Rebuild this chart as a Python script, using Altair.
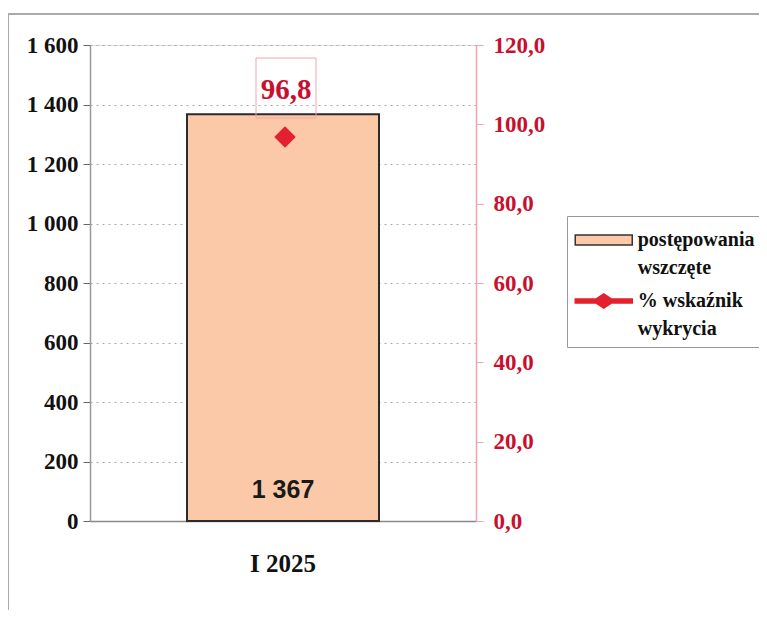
import altair as alt
import pandas as pd

# ---- data ----
periods = ["I 2025"]
cases_started = [1367]
detection_rate = [96.8]
series_names = ["postępowania wszczęte", "% wskaźnik wykrycia"]
left_ticks = [0, 200, 400, 600, 800, 1000, 1200, 1400, 1600]
right_ticks = [0, 20, 40, 60, 80, 100, 120]

PEACH = "#fbc9a8"
RED = "#e3202d"
RED_TXT = "#c8102e"
PINK = "#f2a2b2"
SERIF = "Liberation Serif"
SANS = "Liberation Sans"

bar_df = pd.DataFrame({"okres": periods, "wszczete": cases_started, "seria": [series_names[0]]})
line_df = pd.DataFrame({"okres": periods, "wskaznik": detection_rate, "seria": [series_names[1]]})
legend_df = pd.DataFrame({"okres": periods * 2, "seria": series_names})

# legend symbol paths (scaled by symbolSize; unit = sqrt(size)/2)
P_BAR = "M-1.9,-0.33H1.9V0.33H-1.9Z"
P_LINE = "M-1.9,-0.14H-0.5L0,-0.47L0.5,-0.14H1.9V0.14H0.5L0,0.47L-0.5,0.14H-1.9Z"

legend = alt.Legend(
    title=None, orient="none", legendX=477, legendY=171,
    strokeColor="#999", padding=8, symbolSize=900, symbolOffset=12.75,
    symbolStrokeWidth=1.5,
    labelFont=SERIF, labelFontWeight="bold", labelFontSize=20, labelColor="#111",
    labelOffset=18, labelLimit=300, rowPadding=7,
    labelExpr="indexof(datum.label, '%') == 0 ? ['% wskaźnik', 'wykrycia'] : split(datum.label, ' ')",
)
fill_scale = alt.Scale(domain=series_names, range=[PEACH, RED])
stroke_scale = alt.Scale(domain=series_names, range=["#333333", RED])
shape_scale = alt.Scale(domain=series_names, range=[P_BAR, P_LINE])

x_enc = alt.X("okres:N", title=None, scale=alt.Scale(paddingInner=0.5, paddingOuter=0.25),
              axis=alt.Axis(labelAngle=0, labelFont=SERIF, labelFontWeight="bold",
                            labelFontSize=25, labelColor="#111", labelPadding=30,
                            ticks=False, domainColor="#888", domainWidth=1.5))

left_base = alt.Chart(bar_df).encode(
    x=x_enc,
    y=alt.Y("wszczete:Q", title=None, scale=alt.Scale(domain=[0, 1600], nice=False),
            axis=alt.Axis(values=left_ticks,
                          labelExpr="replace(format(datum.value, ',d'), ',', ' ')",
                          labelFont=SERIF, labelFontWeight="bold", labelFontSize=23,
                          labelColor="#111", labelPadding=5, tickSize=7,
                          tickColor="#666", domainColor="#999", domainWidth=1.5,
                          grid=True, gridDash=[2, 4], gridColor="#aaa")),
)
bars = left_base.mark_bar(size=192, stroke="#2b2b2b", strokeWidth=2).encode(
    fill=alt.Fill("seria:N", scale=fill_scale, legend=legend))
bar_text = left_base.transform_calculate(
    lab="replace(format(datum.wszczete, ','), ',', ' ')"
).mark_text(font=SANS, fontWeight="bold", fontSize=25, color="#1a1a1a",
            baseline="bottom", dy=-18).encode(
    y=alt.datum(0), text="lab:N")
left = alt.layer(bars, bar_text)

y_right = alt.Y("wskaznik:Q", title=None, scale=alt.Scale(domain=[0, 120], nice=False),
                axis=alt.Axis(orient="right", values=right_ticks,
                              labelExpr="replace(format(datum.value, '.1f'), '.', ',')",
                              labelFont=SERIF, labelFontWeight="bold", labelFontSize=23,
                              labelColor=RED_TXT, labelPadding=10, tickSize=7,
                              tickColor=PINK, domainColor=PINK, domainWidth=1.5, grid=False))
right_base = alt.Chart(line_df).encode(x=x_enc, y=y_right)
box = right_base.mark_point(shape="M-1,-1H1V1H-1Z", size=3600, filled=False,
                            stroke=PINK, strokeWidth=1, yOffset=-49, xOffset=3, opacity=1)
diamond = right_base.mark_point(shape="diamond", size=460, filled=True, opacity=1,
                                xOffset=2).encode(
    fill=alt.Fill("seria:N", scale=fill_scale, legend=legend))
rate_text = right_base.transform_calculate(
    lab="replace(format(datum.wskaznik, '.1f'), '.', ',')"
).mark_text(font=SERIF, fontWeight="bold", fontSize=29, color=RED_TXT,
            baseline="middle", dy=-47, dx=3).encode(text="lab:N")
# legend-only layer (clipped away from the plot)
legend_marks = alt.Chart(legend_df).mark_point(filled=True, opacity=1, clip=True).encode(
    x=x_enc,
    y=alt.datum(-1000),
    fill=alt.Fill("seria:N", scale=fill_scale, legend=legend),
    stroke=alt.Stroke("seria:N", scale=stroke_scale, legend=legend),
    shape=alt.Shape("seria:N", scale=shape_scale, legend=legend),
)
right = alt.layer(box, diamond, rate_text, legend_marks)

frame = alt.Chart(pd.DataFrame({"a": [0]})).mark_rect(
    fillOpacity=0, stroke="#aaa", strokeWidth=2).encode(
    x=alt.value(-82), x2=alt.value(720), y=alt.value(-31), y2=alt.value(580))

chart = alt.layer(frame, left, right).resolve_scale(y="independent").properties(
    width=386, height=476,
    autosize=alt.AutoSizeParams(type="none"),
    padding={"left": 82, "top": 37, "right": 283, "bottom": 89},
).configure_view(stroke=None).configure(style={"guide-label": {"lineHeight": 28}})

chart.save("out.html", embed_options={"renderer": "svg", "actions": False})
